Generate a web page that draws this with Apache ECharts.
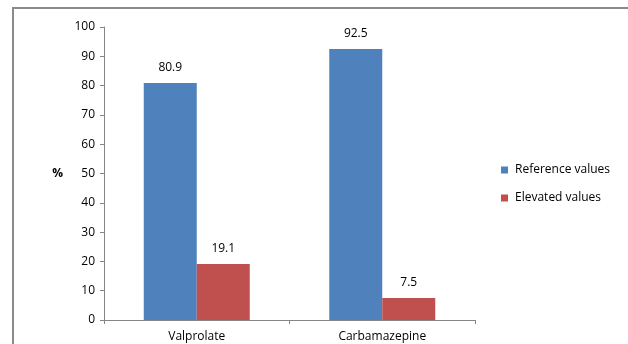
<!DOCTYPE html>
<html>
<head>
<meta charset="utf-8">
<script src="https://cdn.jsdelivr.net/npm/echarts@6/dist/echarts.min.js"></script>
<style>
  html, body { margin: 0; padding: 0; background: #fff; }
  #main { width: 628px; height: 344px; }
</style>
</head>
<body>
<div id="main"></div>
<script>
var categories = ['Valprolate', 'Carbamazepine'];
var referenceValues = [80.9, 92.5];
var elevatedValues = [19.1, 7.5];
var seriesNames = ['Reference values', 'Elevated values'];

var chart = echarts.init(document.getElementById('main'));
var font = '"Open Sans", "Liberation Sans", sans-serif';

chart.setOption({
  animation: false,
  textStyle: { fontFamily: font },
  graphic: [{
    type: 'rect',
    shape: { x: 13, y: 8, width: 640, height: 360 },
    style: { fill: 'none', stroke: '#8a8a8a', lineWidth: 2 },
    silent: true
  }],
  grid: { left: 104, right: 153, top: 27, bottom: 24 },
  legend: {
    orient: 'vertical',
    left: 496,
    top: 159,
    itemWidth: 7,
    itemHeight: 7,
    itemGap: 16,
    icon: 'rect',
    textStyle: { fontSize: 12, color: '#000', fontFamily: font, padding: [0, 0, 0, 2] },
    data: seriesNames
  },
  xAxis: {
    type: 'category',
    data: categories,
    axisLine: { lineStyle: { color: '#868686' } },
    axisTick: { show: true, length: 4, lineStyle: { color: '#868686' } },
    axisLabel: { color: '#000', fontSize: 12, margin: 11, fontFamily: font }
  },
  yAxis: {
    type: 'value',
    min: 0,
    max: 100,
    interval: 10,
    name: '%',
    nameLocation: 'middle',
    nameRotate: 0,
    nameGap: 41,
    nameTextStyle: { color: '#000', fontSize: 12, fontWeight: 'bold', fontFamily: font },
    axisLine: { show: true, lineStyle: { color: '#868686' } },
    axisTick: { show: true, length: 4, lineStyle: { color: '#868686' } },
    splitLine: { show: false },
    axisLabel: { color: '#000', fontSize: 12, margin: 9, fontFamily: font }
  },
  series: [{
    name: seriesNames[0],
    type: 'bar',
    data: referenceValues,
    barWidth: 53,
    barGap: '0%',
    itemStyle: { color: '#4F81BD' },
    label: { show: true, position: 'top', distance: 9, color: '#000', fontSize: 12, fontFamily: font }
  }, {
    name: seriesNames[1],
    type: 'bar',
    data: elevatedValues,
    barWidth: 53,
    itemStyle: { color: '#C0504D' },
    label: { show: true, position: 'top', distance: 9, color: '#000', fontSize: 12, fontFamily: font }
  }]
});
</script>
</body>
</html>
